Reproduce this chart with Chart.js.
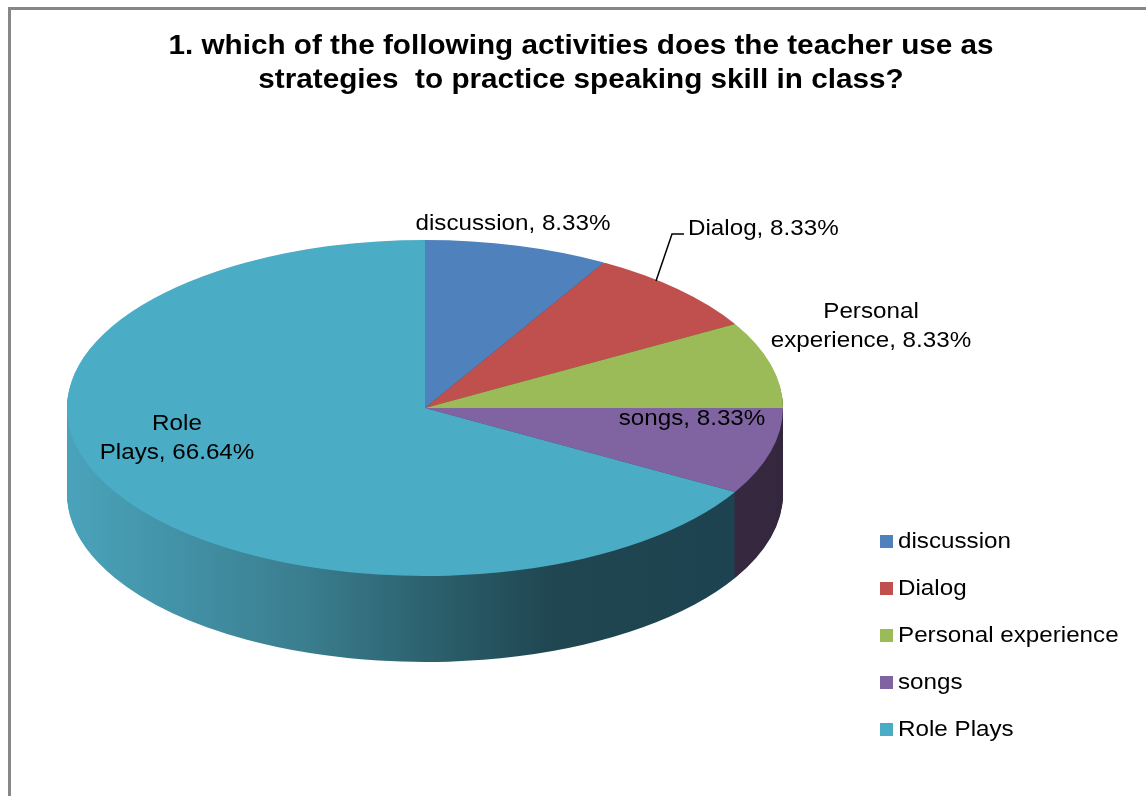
<!DOCTYPE html>
<html>
<head>
<meta charset="utf-8">
<script src="https://cdn.jsdelivr.net/npm/chart.js@4.4.1/dist/chart.umd.min.js"></script>
<style>
    html, body { margin: 0; padding: 0; background: #fff; }
    #wrap { width: 1146px; height: 796px; }
</style>
</head>
<body>
<div id="wrap"><canvas id="activityPie" width="1146" height="796"></canvas></div>
<script>
const categories = ['discussion', 'Dialog', 'Personal experience', 'songs', 'Role Plays'];
const shares = [8.33, 8.33, 8.33, 8.33, 66.64];
const sliceColors = ['#4F81BD', '#C0504D', '#9BBB59', '#8064A2', '#4BACC6'];
const sideColors = ['#2d4a6d', '#6e2e2c', '#5a6d34', '#35283f', null]; // null -> gradient
const titleLines = [
    '1. which of the following activities does the teacher use as',
    'strategies  to practice speaking skill in class?'
];

// where the slice labels sit; wrap = break after that many words
const labelSpots = [
    { x: 513, y: 230, align: 'center', wrap: 0 },
    { x: 688, y: 235, align: 'left', wrap: 0 },
    { x: 871, y: 318, align: 'center', wrap: 1 },
    { x: 692, y: 425, align: 'center', wrap: 0 },
    { x: 177, y: 430, align: 'center', wrap: 1 }
];

const PIE_CY = 408;     // screen centre of the tilted top face
const PIE_RY = 168;     // half height of the top face
const PIE_DEPTH = 86;   // thickness of the disc
const FONT = '"Liberation Sans", Arial, sans-serif';
const STRETCH = 1.1;

function stretchText(ctx, text, x, y, font, align) {
    ctx.save();
    ctx.font = font;
    ctx.textAlign = align;
    ctx.textBaseline = 'alphabetic';
    ctx.translate(x, y);
    ctx.scale(STRETCH, 1);
    ctx.fillText(text, 0, 0);
    ctx.restore();
}

function tilt(ctx, arc, dy) {
    const k = PIE_RY / arc.outerRadius;
    ctx.translate(0, dy);
    ctx.translate(arc.x, PIE_CY);
    ctx.scale(1, k);
    ctx.translate(-arc.x, -arc.y);
}

const tiltedPie = {
    id: 'tiltedPie',
    beforeDraw(chart) {
        const ctx = chart.ctx;
        ctx.save();
        ctx.fillStyle = '#ffffff';
        ctx.fillRect(0, 0, chart.width, chart.height);
        ctx.strokeStyle = '#878787';
        ctx.lineWidth = 3;
        ctx.strokeRect(9.5, 8.5, chart.width + 40, chart.height + 40);
        ctx.restore();
    },
    beforeDatasetsDraw(chart) {
        const ctx = chart.ctx;
        const arcs = chart.getDatasetMeta(0).data;
        const a0 = arcs[0];
        const grad = ctx.createLinearGradient(a0.x - a0.outerRadius, 0, a0.x + a0.outerRadius, 0);
        grad.addColorStop(0, '#4aa3bb');
        grad.addColorStop(0.33, '#3a7e8f');
        grad.addColorStop(0.53, '#2a5d69');
        grad.addColorStop(0.68, '#1f4651');
        grad.addColorStop(1, '#1e4250');

        // extrude the disc: stacked copies from the bottom up
        for (let d = PIE_DEPTH; d > 0; d--) {
            arcs.forEach((arc, i) => {
                const side = Object.create(arc);
                side.options = Object.assign({}, arc.options, {
                    backgroundColor: sideColors[i] || grad,
                    borderWidth: 0
                });
                ctx.save();
                tilt(ctx, arc, d);
                side.draw(ctx);
                ctx.restore();
            });
        }
        ctx.save();
        tilt(ctx, a0, 0);
    },
    afterDatasetsDraw(chart) {
        chart.ctx.restore();
    },
    afterDraw(chart) {
        const ctx = chart.ctx;
        ctx.save();
        ctx.fillStyle = '#000000';
        titleLines.forEach((line, i) => {
            stretchText(ctx, line, 581, 54 + i * 34, 'bold 27px ' + FONT, 'center');
        });

        const values = chart.data.datasets[0].data;
        chart.data.labels.forEach((name, i) => {
            const spot = labelSpots[i];
            const words = (name + ', ' + values[i].toFixed(2) + '%').split(' ');
            const lines = spot.wrap
                ? [words.slice(0, spot.wrap).join(' '), words.slice(spot.wrap).join(' ')]
                : [words.join(' ')];
            lines.forEach((line, j) => {
                stretchText(ctx, line, spot.x, spot.y + j * 29, '22px ' + FONT, spot.align);
            });
        });

        // leader line for the Dialog label
        ctx.strokeStyle = '#000000';
        ctx.lineWidth = 1.5;
        ctx.beginPath();
        ctx.moveTo(656, 281);
        ctx.lineTo(672, 234);
        ctx.lineTo(684, 234);
        ctx.stroke();

        // legend
        chart.data.labels.forEach((name, i) => {
            const y = 541 + i * 47;
            ctx.fillStyle = sliceColors[i];
            ctx.fillRect(880, y - 6, 13, 13);
            ctx.fillStyle = '#000000';
            stretchText(ctx, name, 898, y + 7, '22px ' + FONT, 'left');
        });
        ctx.restore();
    }
};

new Chart(document.getElementById('activityPie'), {
    type: 'pie',
    data: {
        labels: categories,
        datasets: [{
            data: shares,
            backgroundColor: sliceColors,
            borderWidth: 0
        }]
    },
    options: {
        responsive: false,
        animation: false,
        layout: { padding: { left: 67, right: 363, top: 40, bottom: 40 } },
        plugins: {
            legend: { display: false },
            title: { display: false },
            tooltip: { enabled: false }
        }
    },
    plugins: [tiltedPie]
});
</script>
</body>
</html>
